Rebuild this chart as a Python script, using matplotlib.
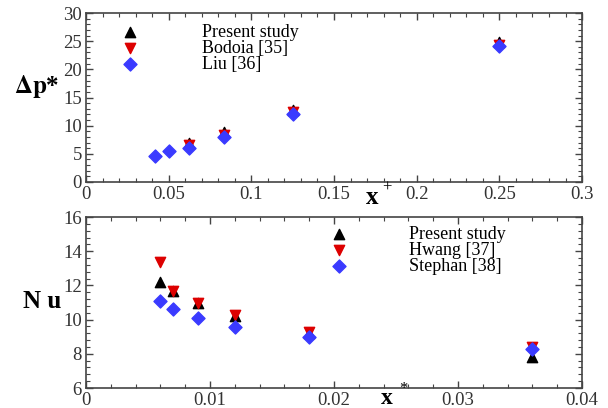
import matplotlib
matplotlib.use("Agg")
import matplotlib.pyplot as plt
from matplotlib.ticker import MultipleLocator

plt.rcParams['font.family'] = ['Liberation Serif', 'DejaVu Serif']
plt.rcParams['mathtext.fontset'] = 'stix'

# top panel: pressure drop vs x+
x_present_dp = [0.0625, 0.0833, 0.125, 0.25]
dp_present = [6.9, 8.8, 12.8, 24.8]
x_bodoia = [0.0625, 0.0833, 0.125, 0.25]
dp_bodoia = [6.6, 8.4, 12.4, 24.4]
x_liu = [0.0417, 0.05, 0.0625, 0.0833, 0.125, 0.25]
dp_liu = [4.7, 5.5, 6.0, 8.0, 12.0, 24.1]

# bottom panel: Nu vs x*
x_nu = [0.006, 0.007, 0.009, 0.012, 0.018, 0.036]
nu_present = [12.2, 11.7, 10.95, 10.2, 9.2, 7.8]
nu_hwang = [13.35, 11.7, 10.95, 10.25, 9.3, 8.4]
nu_stephan = [11.1, 10.6, 10.1, 9.55, 9.0, 8.3]

black = 'black'
red = '#dd0000'
blue = '#3a3aff'

fig = plt.figure(figsize=(6.08, 4.08), dpi=100)
ax1 = fig.add_axes([0.1414, 0.554, 0.816, 0.414])
ax2 = fig.add_axes([0.1414, 0.049, 0.816, 0.419])

ms = 55
ax1.scatter(x_present_dp, dp_present, marker='^', s=ms, color=black, label='Present study', zorder=3)
ax1.scatter(x_bodoia, dp_bodoia, marker='v', s=ms, color=red, label='Bodoia [35]', zorder=4)
ax1.scatter(x_liu, dp_liu, marker='D', s=ms*0.8, color=blue, label='Liu [36]', zorder=5)

ax2.scatter(x_nu, nu_present, marker='^', s=ms, color=black, label='Present study', zorder=3)
ax2.scatter(x_nu, nu_hwang, marker='v', s=ms, color=red, label='Hwang [37]', zorder=4)
ax2.scatter(x_nu, nu_stephan, marker='D', s=ms*0.8, color=blue, label='Stephan [38]', zorder=5)

ax1.set_xlim(0, 0.3)
ax1.set_ylim(0, 30)
ax1.xaxis.set_minor_locator(MultipleLocator(0.01))
ax1.yaxis.set_major_locator(MultipleLocator(5))
ax1.yaxis.set_minor_locator(MultipleLocator(1))
ax1.set_xticks([0, 0.05, 0.1, 0.15, 0.2, 0.25, 0.3])
ax1.set_xticklabels(['0', '0.05', '0.1', '0.15', '0.2', '0.25', '0.3'])

ax2.set_xlim(0, 0.04)
ax2.set_ylim(6, 16)
ax2.xaxis.set_minor_locator(MultipleLocator(0.002))
ax2.yaxis.set_major_locator(MultipleLocator(2))
ax2.yaxis.set_minor_locator(MultipleLocator(0.4))
ax2.set_xticks([0, 0.01, 0.02, 0.03, 0.04])
ax2.set_xticklabels(['0', '0.01', '0.02', '0.03', '0.04'])

for ax in (ax1, ax2):
    for sp in ax.spines.values():
        sp.set_color('#444444')
        sp.set_linewidth(1.2)
    ax.tick_params(which='both', direction='in', top=True, right=True,
                   colors='#444444', labelcolor='#333333', labelsize=13.5, pad=3)
    ax.tick_params(which='major', length=5, width=1)
    ax.tick_params(which='minor', length=3, width=0.8)

leg_kw = dict(loc='upper left', frameon=False, borderaxespad=0, borderpad=0,
              handlelength=1.0, labelspacing=-0.05, fontsize=13, scatterpoints=1)
ax1.legend(bbox_to_anchor=(0.071, 0.935), handletextpad=3.45, **leg_kw)
ax2.legend(bbox_to_anchor=(0.492, 0.95), handletextpad=3.35, **leg_kw)

fig.text(0.061, 0.789, r'$\mathbf{\Delta p}$*', fontsize=18, fontweight='bold',
         ha='center', va='center')
fig.text(0.069, 0.26, 'N u', fontsize=18, fontweight='bold', ha='center', va='center')
fig.text(0.612, 0.517, 'x', fontsize=18, fontweight='bold', ha='center', va='center')
fig.text(0.637, 0.541, '+', fontsize=12, ha='center', va='center')
fig.text(0.637, 0.024, 'x', fontsize=17, fontweight='bold', ha='center', va='center')
fig.text(0.664, 0.046, '*', fontsize=12, ha='center', va='center')

fig.savefig('out.png', dpi=100)
